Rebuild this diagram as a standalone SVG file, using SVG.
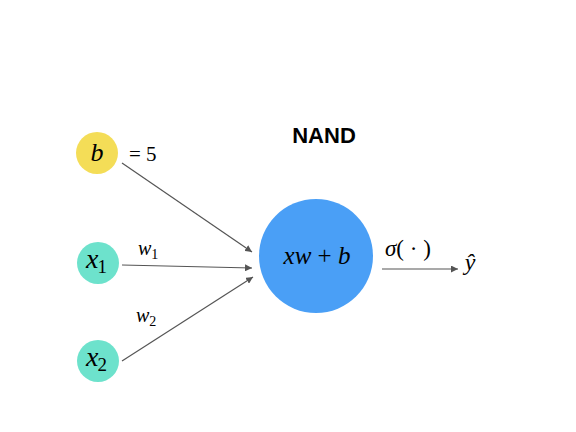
<svg xmlns="http://www.w3.org/2000/svg" width="576" height="432" viewBox="0 0 576 432">
<style>
.c{stroke:#555;stroke-width:1.2;fill:none;marker-end:url(#ah)}
</style>
<defs>
<marker id="ah" viewBox="0 0 10 10" refX="10" refY="5" markerWidth="7" markerHeight="7" markerUnits="userSpaceOnUse" orient="auto">
<path d="M0,0 L10,5 L0,10 z" fill="#555"/>
</marker>
</defs>
<rect width="576" height="432" fill="#fff"/>
<text x="324" y="143" font-family="Liberation Sans, Arial, sans-serif" font-weight="bold" font-size="22" text-anchor="middle">NAND</text>
<g id="connectors">
<line class="c" x1="122" y1="163" x2="252" y2="252"/>
<line class="c" x1="122" y1="265" x2="252" y2="268"/>
<line class="c" x1="122" y1="361" x2="253" y2="277"/>
<line class="c" x1="382" y1="269" x2="458" y2="269"/>
<text font-family="Liberation Serif, serif" font-style="italic" x="138" y="255" font-size="20">w<tspan font-size="14" dy="4" font-style="normal">1</tspan></text>
<text font-family="Liberation Serif, serif" font-style="italic" x="136" y="322" font-size="20">w<tspan font-size="14" dy="4" font-style="normal">2</tspan></text>
<text font-family="Liberation Serif, serif" font-style="italic" x="385" y="256" font-size="23">σ<tspan font-style="normal">( · )</tspan></text>
</g>
<g id="b">
<circle cx="97" cy="153" r="21" fill="#F4DD57"/>
<text font-family="Liberation Serif, serif" font-style="italic" x="97" y="161" font-size="26" text-anchor="middle">b</text>
<text font-family="Liberation Serif, serif" x="129" y="161" font-size="21">= 5</text>
</g>
<g id="x1">
<circle cx="98" cy="263" r="21" fill="#6DE2CC"/>
<text font-family="Liberation Serif, serif" font-style="italic" x="86" y="268" font-size="28">x<tspan font-style="normal" font-size="19" dy="5" dx="-1">1</tspan></text>
</g>
<g id="x2">
<circle cx="98" cy="361" r="21" fill="#6DE2CC"/>
<text font-family="Liberation Serif, serif" font-style="italic" x="86" y="366" font-size="28">x<tspan font-style="normal" font-size="19" dy="5" dx="-1">2</tspan></text>
</g>
<g id="sum">
<circle cx="316" cy="256" r="57" fill="#4A9FF6"/>
<text font-family="Liberation Serif, serif" font-style="italic" x="317" y="264" font-size="25" text-anchor="middle">xw <tspan font-style="normal">+</tspan> b</text>
</g>
<g id="yhat">
<text font-family="Liberation Serif, serif" font-style="italic" x="470" y="270" font-size="24" text-anchor="middle">ŷ</text>
</g>
</svg>
